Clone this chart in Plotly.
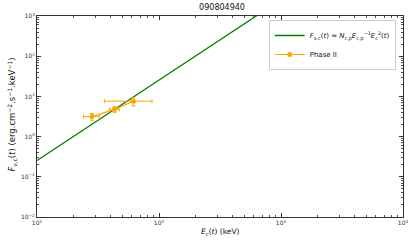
import numpy as np
import plotly.graph_objects as go

# Data
title_text = "090804940"
phase_E = [28.2, 43.2, 61.7]          # keV
phase_E_err = [4.2, 4.0, 26.0]
phase_F = [3.15, 4.76, 7.6]
phase_F_err = [0.6, 0.75, 1.8]

model_coef = 2.55e-3                  # F = coef * E^2
model_E = [10.0, 10000.0]

x_tickvals = [10, 100, 1000, 10000]
x_ticktext = ["10<sup>1</sup>", "10<sup>2</sup>", "10<sup>3</sup>", "10<sup>4</sup>"]
y_tickvals = [0.01, 0.1, 1, 10, 100, 1000]
y_ticktext = ["10<sup>−2</sup>", "10<sup>−1</sup>", "10<sup>0</sup>", "10<sup>1</sup>", "10<sup>2</sup>", "10<sup>3</sup>"]

x_label = "<i>E</i><sub>c</sub>(<i>t</i>) (keV)"
y_label = "<i>F</i><sub>ν,c</sub>(<i>t</i>) (erg.cm<sup>−2</sup>.s<sup>−1</sup>.keV<sup>−1</sup>)"
model_label = "<i>F</i><sub>ν,c</sub>(<i>t</i>) = <i>N</i><sub>c,p</sub><i>E</i><sub>c,p</sub><sup>−1</sup><i>E</i><sub>c</sub><sup>2</sup>(<i>t</i>)"

Em = np.logspace(np.log10(model_E[0]), np.log10(model_E[1]), 200)
Fm = model_coef * Em ** 2

fig = go.Figure()
fig.add_trace(go.Scatter(
    x=Em, y=Fm, mode="lines",
    line=dict(color="#008000", width=1.3),
    name=model_label,
))
fig.add_trace(go.Scatter(
    x=phase_E, y=phase_F, mode="lines+markers",
    line=dict(color="#FFA500", width=1.2),
    marker=dict(color="#FFA500", size=5),
    error_x=dict(type="data", array=phase_E_err, color="#FFA500", thickness=1, width=2),
    error_y=dict(type="data", array=phase_F_err, color="#FFA500", thickness=1, width=2),
    name="Phase II",
))

axis_common = dict(
    type="log", showgrid=False, zeroline=False, automargin=False,
    showline=True, linecolor="#333", linewidth=1, mirror="ticks",
    ticks="inside", ticklen=4, tickcolor="#333", tickwidth=0.8,
    minor=dict(ticks="inside", ticklen=2, tickcolor="#555", tickwidth=0.6, dtick="D1", showgrid=False),
    tickfont=dict(size=6, color="#333", family="DejaVu Sans"),
)

fig.update_layout(
    width=415, height=249,
    margin=dict(l=37, r=12, t=16, b=32),
    paper_bgcolor="white", plot_bgcolor="white",
    font=dict(family="DejaVu Sans", color="#222"),
    title=dict(text=title_text, x=0.535, xanchor="center", y=0.972, yanchor="middle",
               font=dict(size=8, color="#111")),
    xaxis=dict(axis_common, range=[1, 4], tickvals=x_tickvals, ticktext=x_ticktext),
    yaxis=dict(axis_common, range=[-2, 3], tickvals=y_tickvals, ticktext=y_ticktext),
    legend=dict(x=0.98, y=0.98, xanchor="right", yanchor="top",
                bgcolor="white", bordercolor="#ccc", borderwidth=1,
                font=dict(size=7, color="#111"), tracegroupgap=0),
    showlegend=True,
    annotations=[
        dict(text=x_label, xref="paper", yref="paper", x=0.5, y=-0.075,
             xanchor="center", yanchor="middle", showarrow=False,
             font=dict(size=7.5, color="#111")),
        dict(text=y_label, xref="paper", yref="paper", x=-0.068, y=0.51,
             xanchor="center", yanchor="middle", showarrow=False, textangle=-90,
             font=dict(size=8.5, color="#111")),
    ],
)

fig.write_html("out.html", config={"displayModeBar": False},
               post_script="document.body.style.margin='0px';")
